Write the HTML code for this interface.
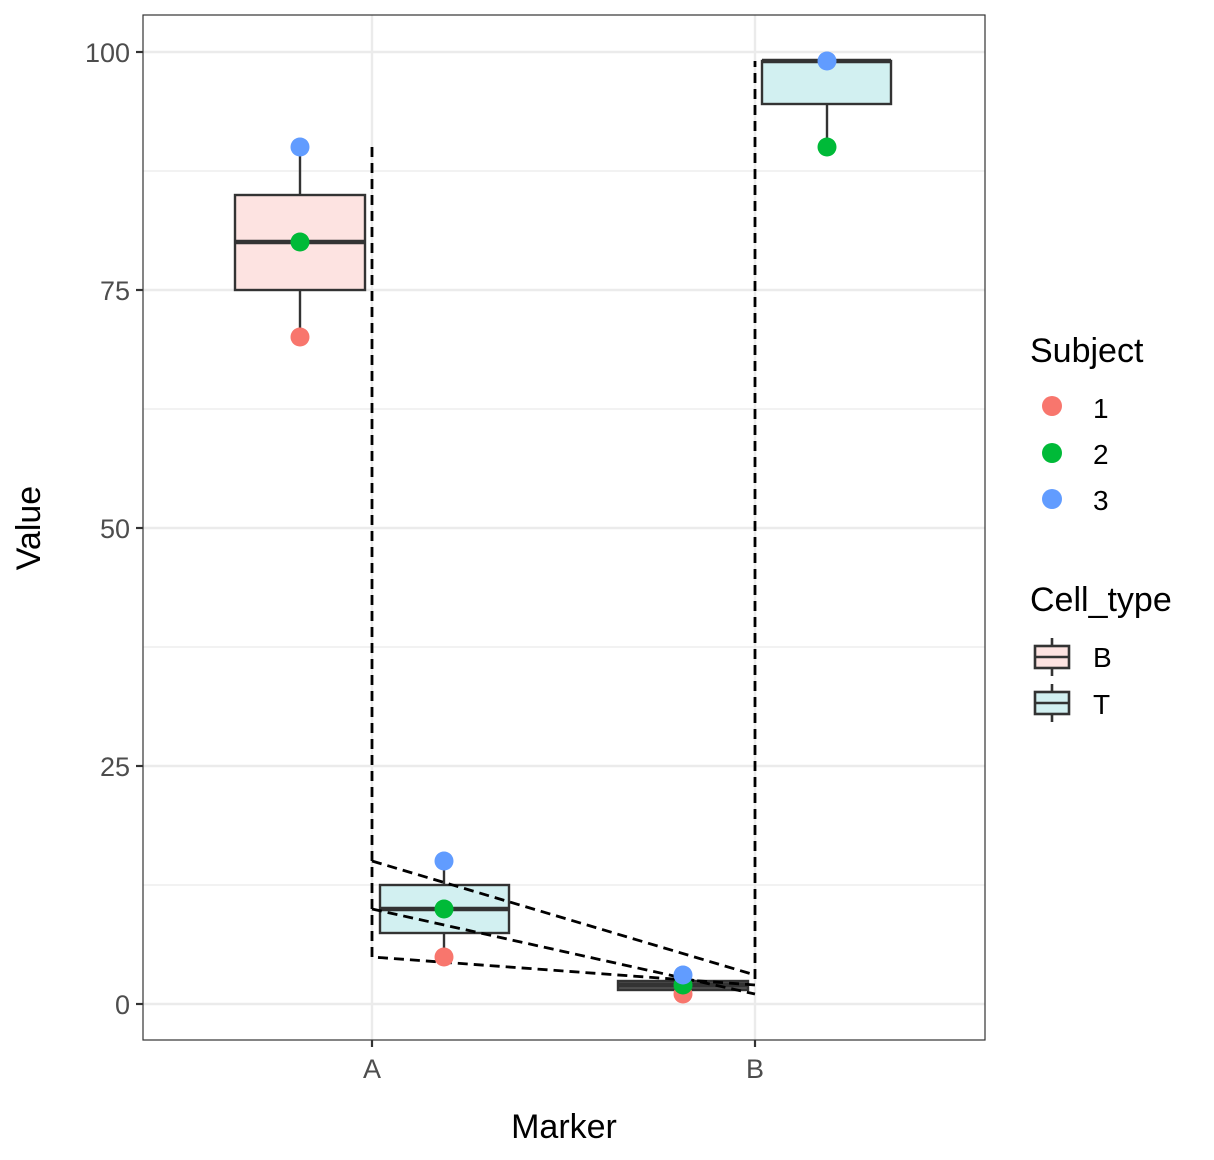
<!DOCTYPE html>
<html><head><meta charset="utf-8"><style>body{margin:0;background:#fff}svg{display:block}text{font-family:"Liberation Sans",Arial,sans-serif}</style></head><body>
<svg width="1214" height="1160" viewBox="0 0 1214 1160" xmlns="http://www.w3.org/2000/svg">
<rect width="1214" height="1160" fill="#fff"/>
<g stroke="#ebebeb" stroke-width="1.2">
<line x1="143" x2="985" y1="171" y2="171"/><line x1="143" x2="985" y1="409" y2="409"/><line x1="143" x2="985" y1="647" y2="647"/><line x1="143" x2="985" y1="885" y2="885"/>
</g>
<g stroke="#ebebeb" stroke-width="2.4">
<line x1="143" x2="985" y1="52" y2="52"/><line x1="143" x2="985" y1="290" y2="290"/><line x1="143" x2="985" y1="528" y2="528"/><line x1="143" x2="985" y1="766" y2="766"/><line x1="143" x2="985" y1="1004" y2="1004"/>
<line x1="372" x2="372" y1="15" y2="1040"/><line x1="755" x2="755" y1="15" y2="1040"/>
</g>
<g stroke="#333" stroke-width="2.4">
<line x1="300" x2="300" y1="147" y2="195"/><line x1="300" x2="300" y1="290" y2="337"/>
<rect x="235" y="195" width="130" height="95" fill="#fde3e1"/>
<line x1="235" x2="365" y1="242" y2="242" stroke-width="4.5"/>
<line x1="444" x2="444" y1="861" y2="885"/><line x1="444" x2="444" y1="933" y2="957"/>
<rect x="380" y="885" width="129" height="48" fill="#d2f0f1"/>
<line x1="380" x2="509" y1="909" y2="909" stroke-width="4.5"/>
<line x1="683" x2="683" y1="975" y2="981"/><line x1="683" x2="683" y1="990" y2="994"/>
<rect x="618" y="981" width="130" height="9" fill="#555"/>
<line x1="618" x2="748" y1="985" y2="985" stroke-width="4.5"/>
<line x1="827" x2="827" y1="104" y2="147"/>
<rect x="762" y="61" width="129" height="43" fill="#d2f0f1"/>
<line x1="762" x2="891" y1="61" y2="61" stroke-width="4.5"/>
</g>
<g stroke="#000" stroke-width="2.8" stroke-dasharray="10,6" fill="none">
<polyline points="372,147 372,957 755,985 755,61"/>
<line x1="372" y1="861" x2="755" y2="975"/>
<line x1="372" y1="909" x2="755" y2="994"/>
</g>
<g>
<circle cx="300" cy="147" r="9.5" fill="#619CFF"/><circle cx="300" cy="242" r="9.5" fill="#00BA38"/><circle cx="300" cy="337" r="9.5" fill="#F8766D"/>
<circle cx="444" cy="861" r="9.5" fill="#619CFF"/><circle cx="444" cy="909" r="9.5" fill="#00BA38"/><circle cx="444" cy="957" r="9.5" fill="#F8766D"/>
<circle cx="683" cy="994" r="9.5" fill="#F8766D"/><circle cx="683" cy="985" r="9.5" fill="#00BA38"/><circle cx="683" cy="975" r="9.5" fill="#619CFF"/>
<circle cx="827" cy="147" r="9.5" fill="#00BA38"/><circle cx="827" cy="61" r="9.5" fill="#619CFF"/>
</g>
<rect x="143" y="15" width="842" height="1025" fill="none" stroke="#333" stroke-width="1.2"/>
<g stroke="#333" stroke-width="2.2">
<line x1="136" x2="143" y1="52" y2="52"/><line x1="136" x2="143" y1="290" y2="290"/><line x1="136" x2="143" y1="528" y2="528"/><line x1="136" x2="143" y1="766" y2="766"/><line x1="136" x2="143" y1="1004" y2="1004"/>
<line x1="372" x2="372" y1="1040" y2="1047"/><line x1="755" x2="755" y1="1040" y2="1047"/>
</g>
<g font-size="27" fill="#4d4d4d" text-anchor="end">
<text x="130" y="62">100</text><text x="130" y="300">75</text><text x="130" y="538">50</text><text x="130" y="776">25</text><text x="130" y="1014">0</text>
</g>
<g font-size="27" fill="#4d4d4d" text-anchor="middle"><text x="372" y="1078">A</text><text x="755" y="1078">B</text></g>
<text x="564" y="1138" font-size="34" text-anchor="middle">Marker</text>
<text transform="translate(40,528) rotate(-90)" font-size="34" text-anchor="middle">Value</text>
<text x="1030" y="362" font-size="34">Subject</text>
<circle cx="1052" cy="406" r="10" fill="#F8766D"/><circle cx="1052" cy="453" r="10" fill="#00BA38"/><circle cx="1052" cy="499" r="10" fill="#619CFF"/>
<g font-size="28"><text x="1093" y="418">1</text><text x="1093" y="464">2</text><text x="1093" y="510">3</text></g>
<text x="1030" y="611" font-size="34">Cell_type</text>
<g stroke="#333" stroke-width="2.6">
<line x1="1052" x2="1052" y1="638" y2="676"/><rect x="1035" y="646" width="34" height="22" fill="#fde3e1"/><line x1="1035" x2="1069" y1="657" y2="657"/>
<line x1="1052" x2="1052" y1="684" y2="722"/><rect x="1035" y="692" width="34" height="22" fill="#d2f0f1"/><line x1="1035" x2="1069" y1="703" y2="703"/>
</g>
<g font-size="28"><text x="1093" y="667">B</text><text x="1093" y="714">T</text></g>
</svg>
</body></html>
